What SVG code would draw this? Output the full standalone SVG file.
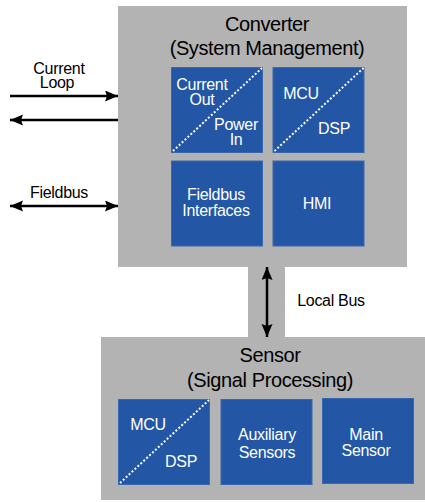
<svg xmlns="http://www.w3.org/2000/svg" width="425" height="502" viewBox="0 0 425 502">
<defs>
<marker id="ah" markerUnits="userSpaceOnUse" markerWidth="14" markerHeight="12" refX="13" refY="5.5" orient="auto-start-reverse">
<path d="M0,0 L13,5.5 L0,11 L2,5.5 z" fill="#000"/>
</marker>
<style>
.bg{fill:#b3b3b3}
.blk{fill:#2356a5;stroke:#3a68b0;stroke-width:1}
.diag{stroke:#fff;stroke-width:2;stroke-dasharray:2 2;fill:none}
.t{font-family:"Liberation Sans",Arial,sans-serif;fill:#000;text-anchor:middle}
.ttl{font-size:20px;letter-spacing:-0.4px}
.lbl{font-size:16px;letter-spacing:-0.3px}
.w{font-family:"Liberation Sans",Arial,sans-serif;fill:#fff;text-anchor:middle;font-size:16px;letter-spacing:-0.3px}
.ln{stroke:#000;stroke-width:2.5;fill:none}
</style>
</defs>
<rect width="425" height="502" fill="#fff"/>
<g id="converter">
<rect class="bg" x="118" y="6" width="289" height="261"/>
<text class="t ttl" x="267" y="31">Converter</text>
<text class="t ttl" x="267" y="55">(System Management)</text>
</g>
<g id="bus-strip">
<rect class="bg" x="248" y="266" width="37" height="72"/>
</g>
<g id="sensor">
<rect class="bg" x="101" y="337" width="324" height="163"/>
<text class="t ttl" x="270" y="362">Sensor</text>
<text class="t ttl" x="270" y="387">(Signal Processing)</text>
</g>
<g id="current-power">
<rect class="blk" x="171.5" y="67.5" width="91" height="85"/>
<line class="diag" x1="173" y1="151" x2="262" y2="68"/>
<text class="w" x="202" y="90">Current</text>
<text class="w" x="202" y="105">Out</text>
<text class="w" x="236" y="130">Power</text>
<text class="w" x="236" y="145">In</text>
</g>
<g id="mcu-dsp-converter">
<rect class="blk" x="273" y="67.5" width="91" height="85"/>
<line class="diag" x1="274.5" y1="151" x2="363.5" y2="68"/>
<text class="w" x="301" y="99">MCU</text>
<text class="w" x="334" y="134">DSP</text>
</g>
<g id="fieldbus-interfaces">
<rect class="blk" x="171.5" y="161" width="91" height="85"/>
<text class="w" x="216" y="200">Fieldbus</text>
<text class="w" x="216" y="216">Interfaces</text>
</g>
<g id="hmi">
<rect class="blk" x="273" y="161" width="91" height="85"/>
<text class="w" x="317" y="209">HMI</text>
</g>
<g id="mcu-dsp-sensor">
<rect class="blk" x="118.5" y="399.5" width="91" height="85"/>
<line class="diag" x1="120" y1="483" x2="209" y2="400"/>
<text class="w" x="148" y="430">MCU</text>
<text class="w" x="181" y="467">DSP</text>
</g>
<g id="auxiliary-sensors">
<rect class="blk" x="221" y="399.5" width="91" height="85"/>
<text class="w" x="267" y="440">Auxiliary</text>
<text class="w" x="267" y="458">Sensors</text>
</g>
<g id="main-sensor">
<rect class="blk" x="322.5" y="398.5" width="91" height="85"/>
<text class="w" x="366" y="440">Main</text>
<text class="w" x="366" y="456">Sensor</text>
</g>
<g id="labels">
<text class="t lbl" x="59" y="74">Current</text>
<text class="t lbl" x="57" y="88">Loop</text>
<text class="t lbl" x="59" y="198">Fieldbus</text>
<text class="t lbl" x="331" y="306">Local Bus</text>
</g>
<g id="connectors">
<line class="ln" x1="10" y1="96" x2="118" y2="96" marker-end="url(#ah)"/>
<line class="ln" x1="118" y1="120" x2="10" y2="120" marker-end="url(#ah)"/>
<line class="ln" x1="10" y1="206" x2="118" y2="206" marker-start="url(#ah)" marker-end="url(#ah)"/>
<line class="ln" x1="267" y1="267" x2="267" y2="337" marker-start="url(#ah)" marker-end="url(#ah)"/>
</g>
</svg>
